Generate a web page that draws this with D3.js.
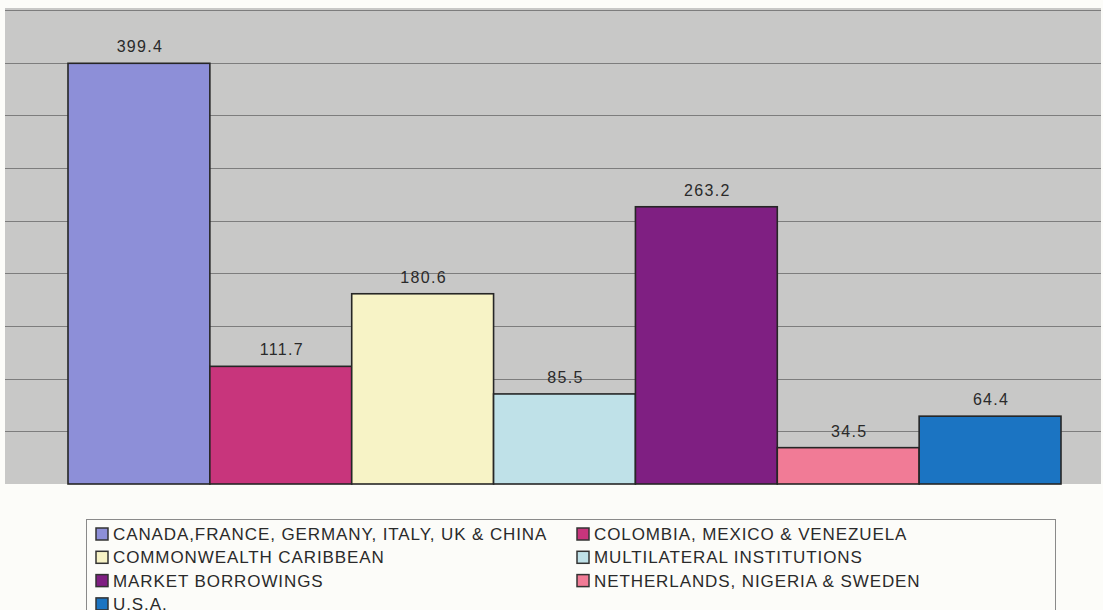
<!DOCTYPE html>
<html>
<head>
<meta charset="utf-8">
<script src="https://cdn.jsdelivr.net/npm/d3@7"></script>
<style>
  body { margin: 0; background: #fcfcf9; }
  text { font-family: "Liberation Sans", Arial, sans-serif; fill: #2a2a2a; }
</style>
</head>
<body>
<div id="chart"></div>
<script>
// values
const categories = [
    'CANADA,FRANCE, GERMANY, ITALY, UK & CHINA',
    'COLOMBIA, MEXICO & VENEZUELA',
    'COMMONWEALTH CARIBBEAN',
    'MULTILATERAL INSTITUTIONS',
    'MARKET BORROWINGS',
    'NETHERLANDS, NIGERIA & SWEDEN',
    'U.S.A.'
];
const values = [399.4, 111.7, 180.6, 85.5, 263.2, 34.5, 64.4];
const colors = ['#8d8fd8', '#c8357c', '#f7f3c6', '#bfe1e8', '#7f1f82', '#f17b96', '#1b74c2'];
const gridTicks = [50, 100, 150, 200, 250, 300, 350, 400, 450];

const width = 1103, height = 610;
const plot = {left: 5, right: 1101, top: 8, bottom: 484};

const svg = d3.select('#chart').append('svg')
    .attr('width', width)
    .attr('height', height);

const x = d3.scaleBand()
    .domain(categories)
    .range([68, 1061])
    .padding(0);

const y = d3.scaleLinear()
    .domain([0, 450])
    .range([plot.bottom, 10]);

// plot background
svg.append('rect')
    .attr('x', plot.left)
    .attr('y', plot.top)
    .attr('width', plot.right - plot.left)
    .attr('height', plot.bottom - plot.top)
    .attr('fill', '#c8c8c7');

// gridlines
svg.append('g')
    .selectAll('line')
    .data(gridTicks)
    .join('line')
    .attr('x1', plot.left)
    .attr('x2', plot.right)
    .attr('y1', d => Math.round(y(d)) + 0.5)
    .attr('y2', d => Math.round(y(d)) + 0.5)
    .attr('stroke', '#7d7d7d')
    .attr('stroke-width', 1.2);

// bars
svg.append('g')
    .selectAll('rect')
    .data(values)
    .join('rect')
    .attr('x', (d, i) => x(categories[i]))
    .attr('y', d => y(d))
    .attr('width', x.bandwidth())
    .attr('height', d => y(0) - y(d))
    .attr('fill', (d, i) => colors[i])
    .attr('stroke', '#262626')
    .attr('stroke-width', 1.6);

// value labels
svg.append('g')
    .selectAll('text')
    .data(values)
    .join('text')
    .attr('x', (d, i) => x(categories[i]) + x.bandwidth() / 2 + 1)
    .attr('y', d => y(d) - 11)
    .attr('text-anchor', 'middle')
    .style('font-size', '16px')
    .style('letter-spacing', '1.3px')
    .text(d => d.toFixed(1));

// legend
const legend = svg.append('g').attr('transform', 'translate(86,519)');

legend.append('rect')
    .attr('x', 0.5)
    .attr('y', 0.5)
    .attr('width', 969)
    .attr('height', 120)
    .attr('fill', 'none')
    .attr('stroke', '#8a8a8a');

const item = legend.selectAll('.legend-item')
    .data(categories)
    .join('g')
    .attr('class', 'legend-item')
    .attr('transform', (d, i) => `translate(${i % 2 === 0 ? 10 : 491},${15 + Math.floor(i / 2) * 23.3})`);

item.append('rect')
    .attr('x', 0)
    .attr('y', -6)
    .attr('width', 12)
    .attr('height', 12)
    .attr('fill', (d, i) => colors[i])
    .attr('stroke', '#333')
    .attr('stroke-width', 1.5);

item.append('text')
    .attr('x', 17)
    .attr('dy', '.36em')
    .style('font-size', '17px')
    .style('letter-spacing', '0.9px')
    .text(d => d);
</script>
</body>
</html>
